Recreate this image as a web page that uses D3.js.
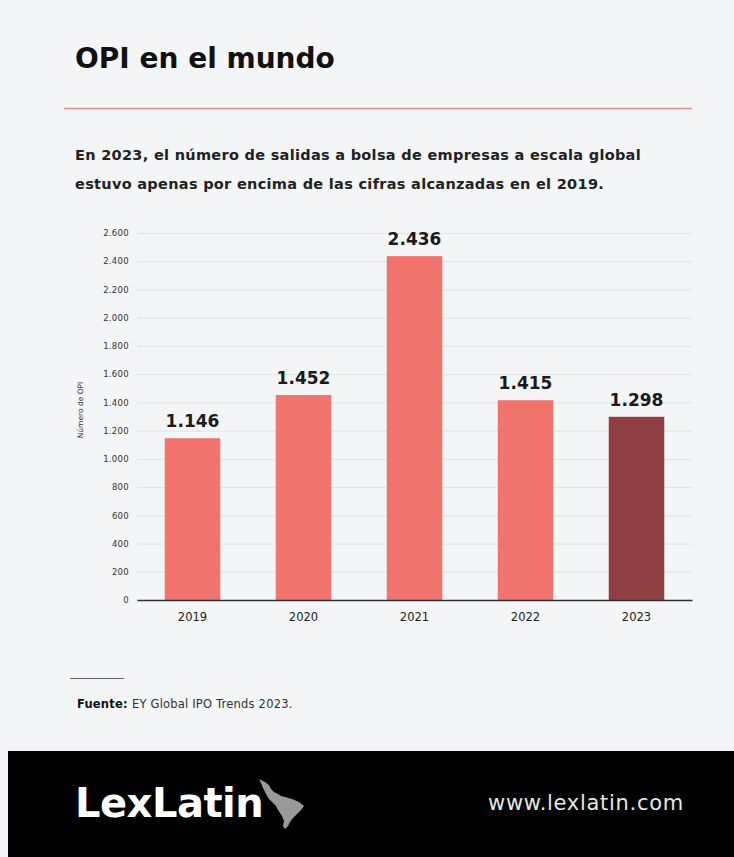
<!DOCTYPE html>
<html>
<head>
<meta charset="utf-8">
<script src="https://cdn.jsdelivr.net/npm/d3@7"></script>
<style>
  body { margin: 0; background: #f4f5f7; }
  svg { display: block; font-family: "DejaVu Sans", sans-serif; }
</style>
</head>
<body>
<div id="wrapper"></div>
<script>
// chart data
const years = ["2019", "2020", "2021", "2022", "2023"] ;
const ipoCounts = [1146, 1452, 2436, 1415, 1298] ;
const valueLabels = ["1.146", "1.452", "2.436", "1.415", "1.298"] ;
const yTicks = [0, 200, 400, 600, 800, 1000, 1200, 1400, 1600, 1800, 2000, 2200, 2400, 2600] ;
const highlightYear = "2023" ;

const subtitleLines = [
  "En 2023, el número de salidas a bolsa de empresas a escala global",
  "estuvo apenas por encima de las cifras alcanzadas en el 2019."
] ;

let dimensions = {
  width: 734,
  height: 857,
  margin: {
    top: 233,
    right: 42,
    bottom: 257,
    left: 137
  }
} ;
dimensions.boundedWidth = dimensions.width - dimensions.margin.left - dimensions.margin.right ;
dimensions.boundedHeight = dimensions.height - dimensions.margin.top - dimensions.margin.bottom ;

const svg = d3.select("#wrapper").append("svg")
    .attr("width", dimensions.width)
    .attr("height", dimensions.height)
;

svg.append("rect")
    .attr("width", dimensions.width)
    .attr("height", dimensions.height)
    .attr("fill", "#f4f5f7")
;

// header
svg.append("text")
    .attr("x", 75)
    .attr("y", 68)
    .attr("font-size", 28)
    .attr("font-weight", "bold")
    .attr("fill", "#111")
    .text("OPI en el mundo")
;

svg.append("line")
    .attr("x1", 64).attr("x2", 692)
    .attr("y1", 108.5).attr("y2", 108.5)
    .attr("stroke", "#f08a85")
    .attr("stroke-width", 1.5)
;

svg.append("g").selectAll("text")
  .data(subtitleLines)
  .enter().append("text")
    .attr("x", 75)
    .attr("y", (d, i) => 160 + i * 29)
    .attr("font-size", 14.5)
    .attr("font-weight", "bold")
    .attr("letter-spacing", 0.3)
    .attr("fill", "#222")
    .text((d) => d)
;

// chart
const bounds = svg.append("g")
    .attr("transform", `translate(${dimensions.margin.left}, ${dimensions.margin.top})`)
;

const xScale = d3.scaleBand()
  .domain(years)
  .range([0, dimensions.boundedWidth])
  .paddingInner(0.5)
  .paddingOuter(0.25)
;

const yScale = d3.scaleLinear()
  .domain([0, 2600])
  .range([dimensions.boundedHeight, 0])
;

const yAxisGenerator = d3.axisLeft()
  .scale(yScale)
  .tickValues(yTicks)
  .tickSize(-dimensions.boundedWidth)
  .tickPadding(8)
  .tickFormat((d) => d3.format(",")(d).replace(/,/g, "."))
;

const yAxis = bounds.append("g").call(yAxisGenerator) ;
yAxis.select(".domain").remove() ;
yAxis.selectAll(".tick line").attr("stroke", "#e1e2e5").attr("stroke-width", 1) ;
yAxis.selectAll(".tick text")
    .attr("font-size", 8.5)
    .attr("fill", "#333")
    .attr("letter-spacing", 0.3)
    .attr("font-family", "DejaVu Sans, sans-serif")
;

bounds.selectAll("rect.bar")
  .data(ipoCounts)
  .enter().append("rect")
    .attr("class", "bar")
    .attr("x", (d, i) => xScale(years[i]))
    .attr("y", (d) => yScale(d))
    .attr("width", xScale.bandwidth())
    .attr("height", (d) => dimensions.boundedHeight - yScale(d))
    .attr("fill", (d, i) => years[i] == highlightYear ? "#8f3f41" : "#f1736d")
;

bounds.selectAll("text.value")
  .data(ipoCounts)
  .enter().append("text")
    .attr("class", "value")
    .attr("x", (d, i) => xScale(years[i]) + xScale.bandwidth() / 2)
    .attr("y", (d) => yScale(d) - 11)
    .attr("text-anchor", "middle")
    .attr("font-size", 17)
    .attr("font-weight", "bold")
    .attr("fill", "#1a1a1a")
    .text((d, i) => valueLabels[i])
;

const xAxisGenerator = d3.axisBottom()
  .scale(xScale)
  .tickSize(0)
  .tickPadding(13)
;
const xAxis = bounds.append("g")
    .attr("transform", `translate(0, ${dimensions.boundedHeight})`)
    .call(xAxisGenerator)
;
xAxis.select(".domain").attr("stroke", "#333").attr("stroke-width", 1.5) ;
xAxis.selectAll(".tick text")
    .attr("font-size", 11.5)
    .attr("fill", "#222")
    .attr("font-family", "DejaVu Sans, sans-serif")
;

svg.append("text")
    .attr("transform", `translate(83, ${dimensions.margin.top + 177}) rotate(-90)`)
    .attr("text-anchor", "middle")
    .attr("font-size", 7.5)
    .attr("fill", "#333")
    .text("Número de OPI")
;

// source
svg.append("line")
    .attr("x1", 70).attr("x2", 124)
    .attr("y1", 678.5).attr("y2", 678.5)
    .attr("stroke", "#666")
    .attr("stroke-width", 1)
;

const source = svg.append("text")
    .attr("x", 77)
    .attr("y", 708)
    .attr("font-size", 11.5)
    .attr("letter-spacing", 0.2)
    .attr("fill", "#333")
;
source.append("tspan").attr("font-weight", "bold").attr("fill", "#111").text("Fuente: ") ;
source.append("tspan").text("EY Global IPO Trends 2023.") ;

// footer band
svg.append("rect")
    .attr("x", 8)
    .attr("y", 751)
    .attr("width", dimensions.width - 8)
    .attr("height", dimensions.height - 751)
    .attr("fill", "#000")
;

svg.append("text")
    .attr("x", 75)
    .attr("y", 817)
    .attr("font-size", 40)
    .attr("font-weight", "bold")
    .attr("fill", "#fff")
    .attr("letter-spacing", -0.5)
    .text("LexLatin")
;

// small map of Latin America next to the logo
svg.append("path")
    .attr("transform", "translate(259, 779)")
    .attr("d", "M0,0 L6,3 L10,6 L12,10 L15,13 L19,15 L22,17 L26,18 L33,20 L40,23 L45,27 L42,31 L38,35 L34,39 L31,43 L29,47 L26,50 L24,47 L25,42 L23,37 L19,31 L17,27 L14,24 L10,20 L7,15 L4,9 L2,4 Z")
    .attr("fill", "#9a9a9a")
;

svg.append("text")
    .attr("x", 488)
    .attr("y", 810)
    .attr("font-size", 21)
    .attr("fill", "#e6e6e6")
    .attr("letter-spacing", 0.7)
    .text("www.lexlatin.com")
;
</script>
</body>
</html>
